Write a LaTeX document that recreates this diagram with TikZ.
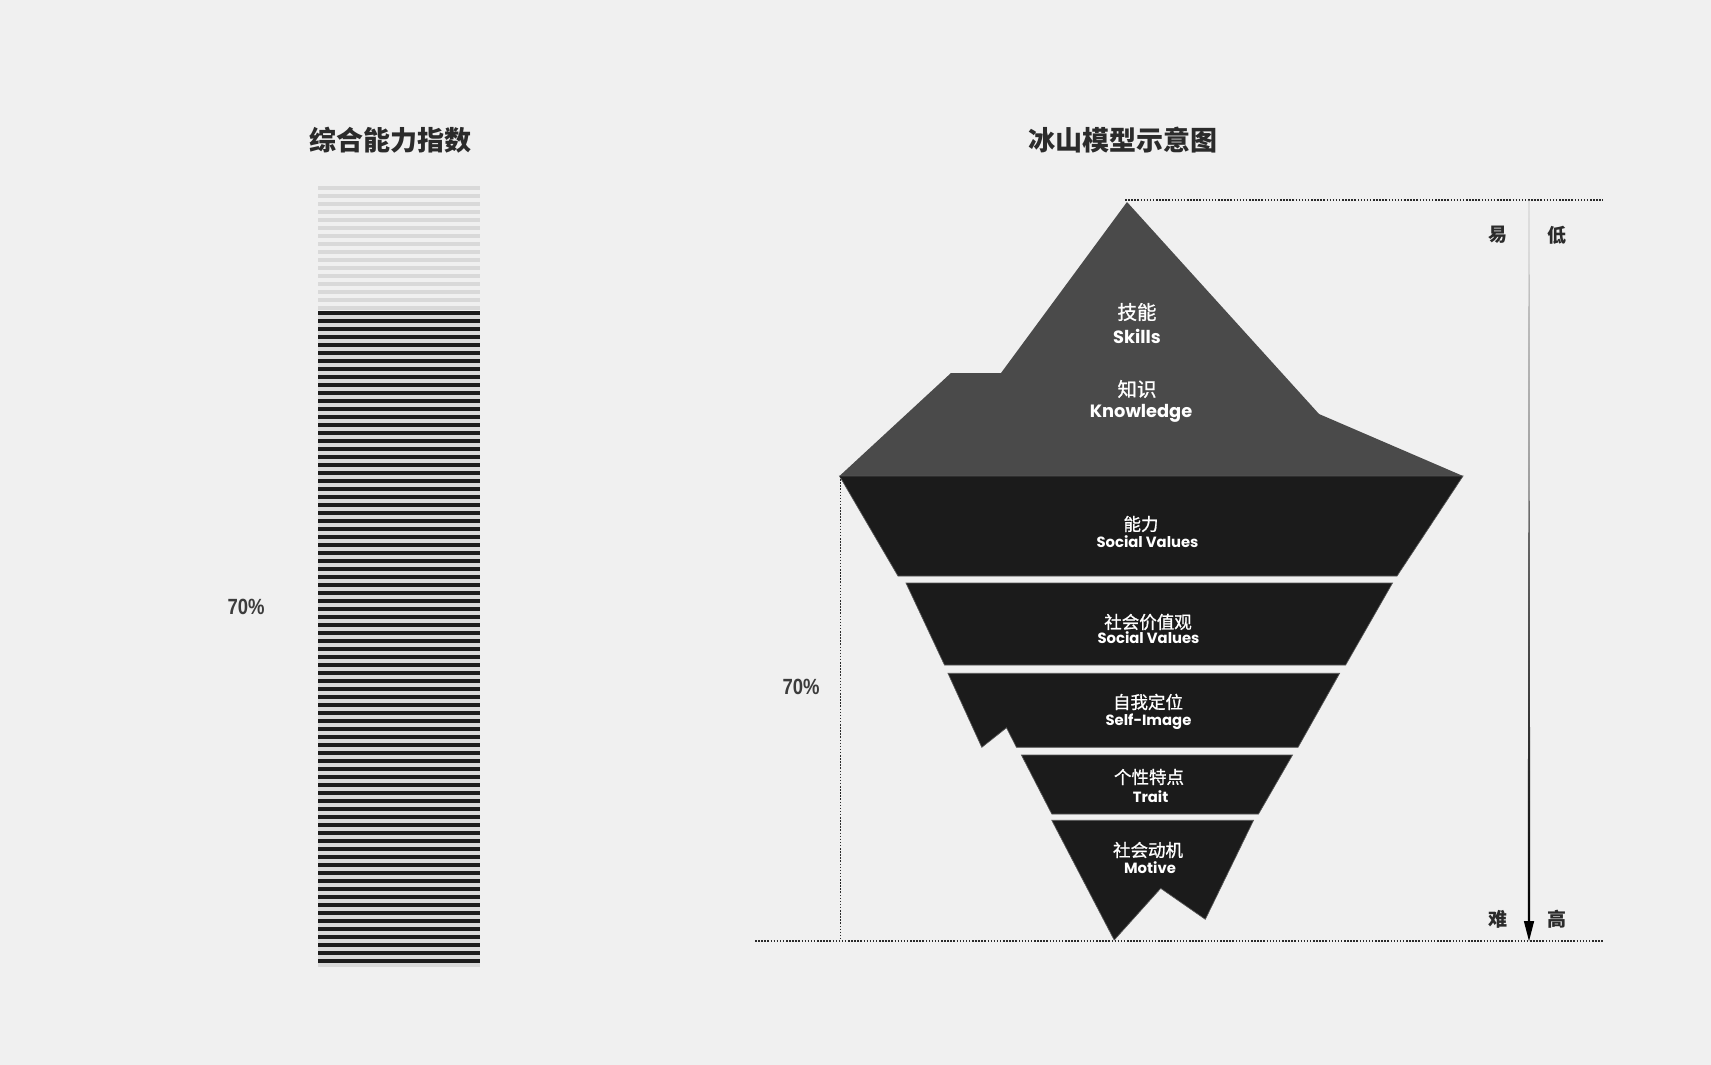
\documentclass[tikz,border=0pt]{standalone}
\usepackage{fontspec}
\setmainfont{Liberation Sans}
\newfontfamily\cjk{Noto Sans CJK SC}
\newfontfamily\cjkm[FakeBold=1.0]{Noto Sans CJK SC}
\newfontfamily\lat{Poppins}
\definecolor{bg}{HTML}{F0F0F0}
\definecolor{topg}{HTML}{4A4A4A}
\definecolor{deep}{HTML}{1B1B1B}
\definecolor{edge}{HTML}{555555}
\definecolor{lstripe}{HTML}{D9D9D9}
\definecolor{dstripe}{HTML}{1C1C1C}
\definecolor{ink}{HTML}{2B2B2B}
\definecolor{pct}{HTML}{3C3C3C}
\begin{document}
\begin{tikzpicture}[x=1pt,y=-1pt,
  titletext/.style={text=ink,font=\cjk\bfseries\fontsize{27}{30}\selectfont,inner sep=0pt},
  sidetext/.style={text=ink,font=\cjk\bfseries\fontsize{19}{22}\selectfont,inner sep=0pt},
  pcttext/.style={text=pct,font=\bfseries\fontsize{22}{24}\selectfont,inner sep=0pt},
  zhlabel/.style={text=white,font=\cjkm\fontsize{17.5}{20}\selectfont,inner sep=0pt},
  zhbig/.style={text=white,font=\cjkm\fontsize{19.5}{22}\selectfont,inner sep=0pt},
  enlabel/.style={text=white,font=\lat\bfseries\fontsize{14.8}{16}\selectfont,inner sep=0pt},
  enbig/.style={text=white,font=\lat\bfseries\fontsize{17.8}{19}\selectfont,inner sep=0pt},
  layer/.style={fill=deep,draw=edge,line width=0.7pt,line join=miter},
  dotline/.style={draw=ink,line width=1.6pt,dash pattern=on 1.5pt off 1.6pt}]
\fill[bg] (0,0) rectangle (1711,1065);
\useasboundingbox (0,0) rectangle (1711,1065);

% titles
\node[titletext] (title1) at (390,140) {综合能力指数};
\node[titletext] (title2) at (1123,140) {冰山模型示意图};

% striped bar
\foreach \i in {0,...,15} \fill[lstripe] (318,186+8*\i) rectangle (480,190+8*\i);
\fill[lstripe] (318,311) rectangle (480,967);
\foreach \i in {0,...,81} \fill[dstripe] (318,311+8*\i) rectangle (480,315+8*\i);
\node[pcttext] (pctA) at (246,607) {\scalebox{0.84}[1]{70\%}};

% iceberg top
\fill[topg] (1127,202) -- (1319,414) -- (1463,476) -- (839.5,476) -- (951,373) -- (1001,373) -- cycle;
% layers
\filldraw[layer] (839.5,476) -- (1463,476) -- (1397,576) -- (898,576) -- cycle;
\filldraw[layer] (906,583) -- (1392.5,583) -- (1345.6,665) -- (944.5,665) -- cycle;
\filldraw[layer] (948,673.3) -- (1339.6,673.3) -- (1298,747.3) -- (1016.5,747.3) -- (1006.5,727.7) -- (981.8,747.3) -- cycle;
\filldraw[layer] (1021.4,755) -- (1292.5,755) -- (1258.5,814) -- (1051.8,814) -- cycle;
\filldraw[layer] (1051.8,820.3) -- (1253.5,820.3) -- (1205.3,919.3) -- (1160.7,888.3) -- (1114.2,940) -- cycle;

% labels
\node[zhbig] (skzh) at (1137,312) {技能};
\node[enbig] (sken) at (1137,336) {Skills};
\node[zhbig] (knzh) at (1137,389) {知识};
\node[enbig] (knen) at (1141,413) {Knowledge};
\node[zhlabel] (l1zh) at (1141,524) {能力};
\node[enlabel] (l1en) at (1147.5,542) {Social Values};
\node[zhlabel] (l2zh) at (1148,622) {社会价值观};
\node[enlabel] (l2en) at (1148.5,638) {Social Values};
\node[zhlabel] (l3zh) at (1148,702) {自我定位};
\node[enlabel] (l3en) at (1148.5,722) {Self-Image};
\node[zhlabel] (l4zh) at (1149,777) {个性特点};
\node[enlabel] (l4en) at (1150.5,797) {Trait};
\node[zhlabel] (l5zh) at (1148,850) {社会动机};
\node[enlabel] (l5en) at (1150,868) {Motive};

% dotted guides
\coordinate (peak) at (1125,200);
\coordinate (topR) at (1603,200);
\coordinate (botL) at (755,941);
\coordinate (botR) at (1603,941);
\coordinate (vTop) at (840.3,476);
\coordinate (vBot) at (840.3,941);
\draw[dotline] (peak) -- (topR);
\draw[dotline] (botL) -- (botR);
\draw[dotline] (vTop) -- (vBot);
\node[pcttext] (pctB) at (801,687) {\scalebox{0.84}[1]{70\%}};

% gradient arrow
\coordinate (aTop) at (1529,200);
\coordinate (aTip) at (1529,941);
\shade[top color=black!25,middle color=black!85,bottom color=black]
  (1528.6,200) -- (1529.4,200) -- (1530.2,924) -- (1527.8,924) -- cycle;
\fill[black] (1523.8,921) -- (1534.2,921) -- (aTip) -- cycle;
\node[sidetext] (easy) at (1498,235) {易};
\node[sidetext] (low) at (1557,235) {低};
\node[sidetext] (hard) at (1498,919) {难};
\node[sidetext] (high) at (1557,919) {高};
\end{tikzpicture}
\end{document}
